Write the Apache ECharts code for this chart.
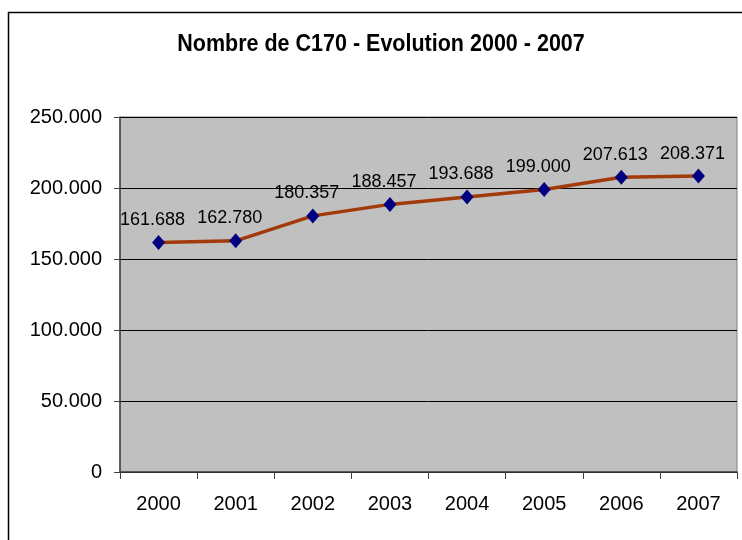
<!DOCTYPE html>
<html>
<head>
<meta charset="utf-8">
<script src="https://cdn.jsdelivr.net/npm/echarts@6/dist/echarts.min.js"></script>
<style>
  html, body { margin: 0; padding: 0; background: #fff; }
  #chart { width: 742px; height: 540px; }
</style>
</head>
<body>
<div id="chart"></div>
<script>
// Number of C170 per year
const years = ['2000', '2001', '2002', '2003', '2004', '2005', '2006', '2007'];
const counts = [161688, 162780, 180357, 188457, 193688, 199000, 207613, 208371];
const yTicks = [0, 50000, 100000, 150000, 200000, 250000];
const titleText = 'Nombre de C170 - Evolution 2000 - 2007';

// thousands separated by a dot, French style
function fmt(v) {
  return String(Math.round(v)).replace(/\B(?=(\d{3})+(?!\d))/g, '.');
}

const chart = echarts.init(document.getElementById('chart'));
chart.setOption({
  animation: false,
  backgroundColor: '#ffffff',
  graphic: [{
    type: 'rect',
    shape: { x: 8.5, y: 12.5, width: 800, height: 600 },
    style: { fill: 'none', stroke: '#000', lineWidth: 1.5 },
    silent: true
  }, {
    // condensed bold heading
    type: 'text',
    x: 381,
    y: 45,
    scaleX: 0.935,
    style: {
      text: titleText,
      textAlign: 'center',
      textVerticalAlign: 'middle',
      fontFamily: '"Liberation Sans", Arial, sans-serif',
      fontWeight: 'bold',
      fontSize: 23,
      fill: '#000'
    },
    silent: true
  }],
  grid: {
    left: 120, right: 5, top: 117, bottom: 68,
    show: true,
    backgroundColor: '#c0c0c0',
    borderColor: '#808080',
    borderWidth: 1
  },
  xAxis: {
    type: 'category',
    data: years,
    boundaryGap: true,
    axisLine: { lineStyle: { color: '#404040', width: 1.5 } },
    axisTick: { show: true, length: 7, lineStyle: { color: '#404040' } },
    axisLabel: {
      margin: 22,
      fontFamily: '"Liberation Sans", Arial, sans-serif',
      fontSize: 20,
      color: '#000'
    },
    splitLine: { show: false }
  },
  yAxis: {
    type: 'value',
    min: yTicks[0],
    max: yTicks[yTicks.length - 1],
    interval: 50000,
    axisLine: { show: true, lineStyle: { color: '#404040', width: 1.5 } },
    axisTick: { show: true, length: 6, lineStyle: { color: '#404040' } },
    axisLabel: {
      margin: 18,
      fontFamily: '"Liberation Sans", Arial, sans-serif',
      fontSize: 20,
      color: '#000',
      formatter: fmt
    },
    splitLine: { show: true, lineStyle: { color: '#000', width: 1 } }
  },
  series: [{
    type: 'line',
    data: counts,
    symbol: 'diamond',
    symbolSize: [13, 15],
    itemStyle: { color: '#000080' },
    lineStyle: { color: '#a33a0a', width: 3.5 },
    z: 3,
    label: {
      show: true,
      position: 'top',
      distance: 6,
      offset: [-6, 0],
      fontFamily: '"Liberation Sans", Arial, sans-serif',
      fontSize: 18,
      color: '#000',
      formatter: p => fmt(p.value)
    }
  }]
});
</script>
</body>
</html>
